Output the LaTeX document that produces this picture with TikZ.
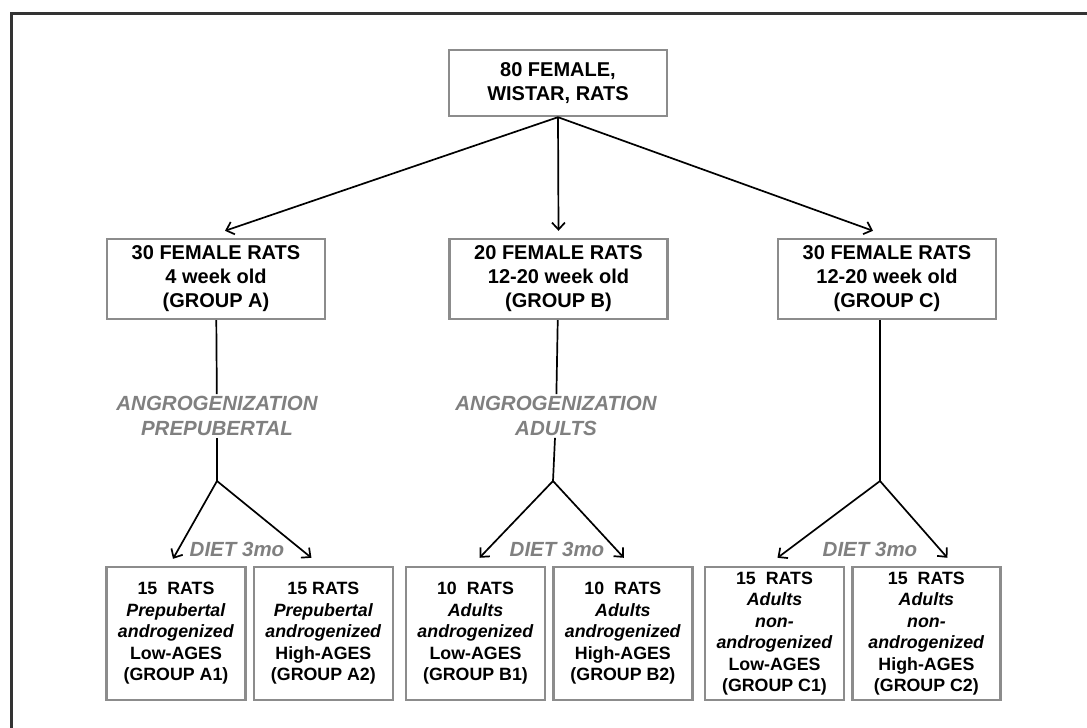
\documentclass[tikz,border=0pt]{standalone}
\usepackage{fontspec}
\setmainfont{Liberation Sans}
\usetikzlibrary{arrows.meta, positioning}
\definecolor{boxgray}{HTML}{8C8C8C}
\definecolor{labelgray}{HTML}{808080}
\definecolor{framegray}{HTML}{333333}

\begin{document}
\begin{tikzpicture}[
    x=1pt, y=-1pt,
    node distance=6pt,
    block/.style={rectangle, draw=boxgray, line width=2.4pt, align=center, font=\fontsize{20}{24}\selectfont\bfseries, minimum width=218pt, inner sep=0pt},
    leaf/.style={rectangle, draw=boxgray, line width=2.4pt, align=center, font=\fontsize{17.8}{21.5}\selectfont\bfseries, minimum width=139pt, minimum height=133pt, inner sep=0pt},
    note/.style={align=center, text=labelgray, font=\fontsize{20.5}{25}\selectfont\bfseries\itshape, inner sep=2pt},
    line/.style={draw, line width=1.7pt},
    arrow/.style={line, -{Straight Barb[length=7pt,width=13pt]}}
]
    \useasboundingbox (0,0) rectangle (1087,728);
    \draw [framegray, line width=3pt] (11,728) |- (1087,13);

    % Nodes
    \node (rats) [block, minimum height=66pt] at (558,83) {80 FEMALE,\\WISTAR, RATS};

    \node (gA) [block, minimum height=80pt] at (216,279) {30 FEMALE RATS\\4 week old\\(GROUP A)};
    \node (gB) [block, minimum height=80pt] at (558.5,279) {20 FEMALE RATS\\12-20 week old\\(GROUP B)};
    \node (gC) [block, minimum height=80pt] at (887,279) {30 FEMALE RATS\\12-20 week old\\(GROUP C)};

    \node (angA) [note] at (217,416) {ANGROGENIZATION\\PREPUBERTAL};
    \node (angB) [note] at (556,416) {ANGROGENIZATION\\ADULTS};

    \coordinate (splitA) at (217,481);
    \coordinate (splitB) at (553,481);
    \coordinate (splitC) at (880,481);

    \node (dietA) [note] at (237,549) {DIET 3mo};
    \node (dietB) [note] at (557,549) {DIET 3mo};
    \node (dietC) [note] at (870,549) {DIET 3mo};

    \node (A1) [leaf] at (176,633.5) {15~~RATS\\\textit{Prepubertal}\\\textit{androgenized}\\Low-AGES\\(GROUP A1)};
    \node (A2) [leaf, right=of A1] {15 RATS\\\textit{Prepubertal}\\\textit{androgenized}\\High-AGES\\(GROUP A2)};
    \node (B1) [leaf] at (475.5,633.5) {10~~RATS\\\textit{Adults}\\\textit{androgenized}\\Low-AGES\\(GROUP B1)};
    \node (B2) [leaf, right=of B1] {10~~RATS\\\textit{Adults}\\\textit{androgenized}\\High-AGES\\(GROUP B2)};
    \node (C1) [leaf] at (774.5,633.5) {15~~RATS\\\textit{Adults}\\\textit{non-}\\\textit{androgenized}\\Low-AGES\\(GROUP C1)};
    \node (C2) [leaf, right=of C1, minimum width=148pt] {15~~RATS\\\textit{Adults}\\\textit{non-}\\\textit{androgenized}\\High-AGES\\(GROUP C2)};

    % Connections
    \draw [arrow] (rats.south) -- ([xshift=9pt,yshift=7pt]gA.north);
    \draw [arrow] (rats.south) -- ([yshift=7pt]gB.north);
    \draw [arrow] (rats.south) -- ([xshift=-14pt,yshift=7pt]gC.north);
    \draw [line] (gA) -- (angA);
    \draw [line] (angA) -- (splitA);
    \draw [line] (gB) -- (angB);
    \draw [line] (angB) -- (splitB);
    \draw [line] (gC.south -| splitC) -- (splitC);
    \draw [arrow] (splitA) -- ([xshift=-3pt,yshift=7pt]A1.north);
    \draw [arrow] (splitA) -- ([xshift=-12pt,yshift=8pt]A2.north);
    \draw [arrow] (splitB) -- ([xshift=4pt,yshift=8pt]B1.north);
    \draw [arrow] (splitB) -- ([xshift=1pt,yshift=8pt]B2.north);
    \draw [arrow] (splitC) -- ([xshift=3pt,yshift=8pt]C1.north);
    \draw [arrow] (splitC) -- ([xshift=21pt,yshift=8pt]C2.north);
\end{tikzpicture}
\end{document}
